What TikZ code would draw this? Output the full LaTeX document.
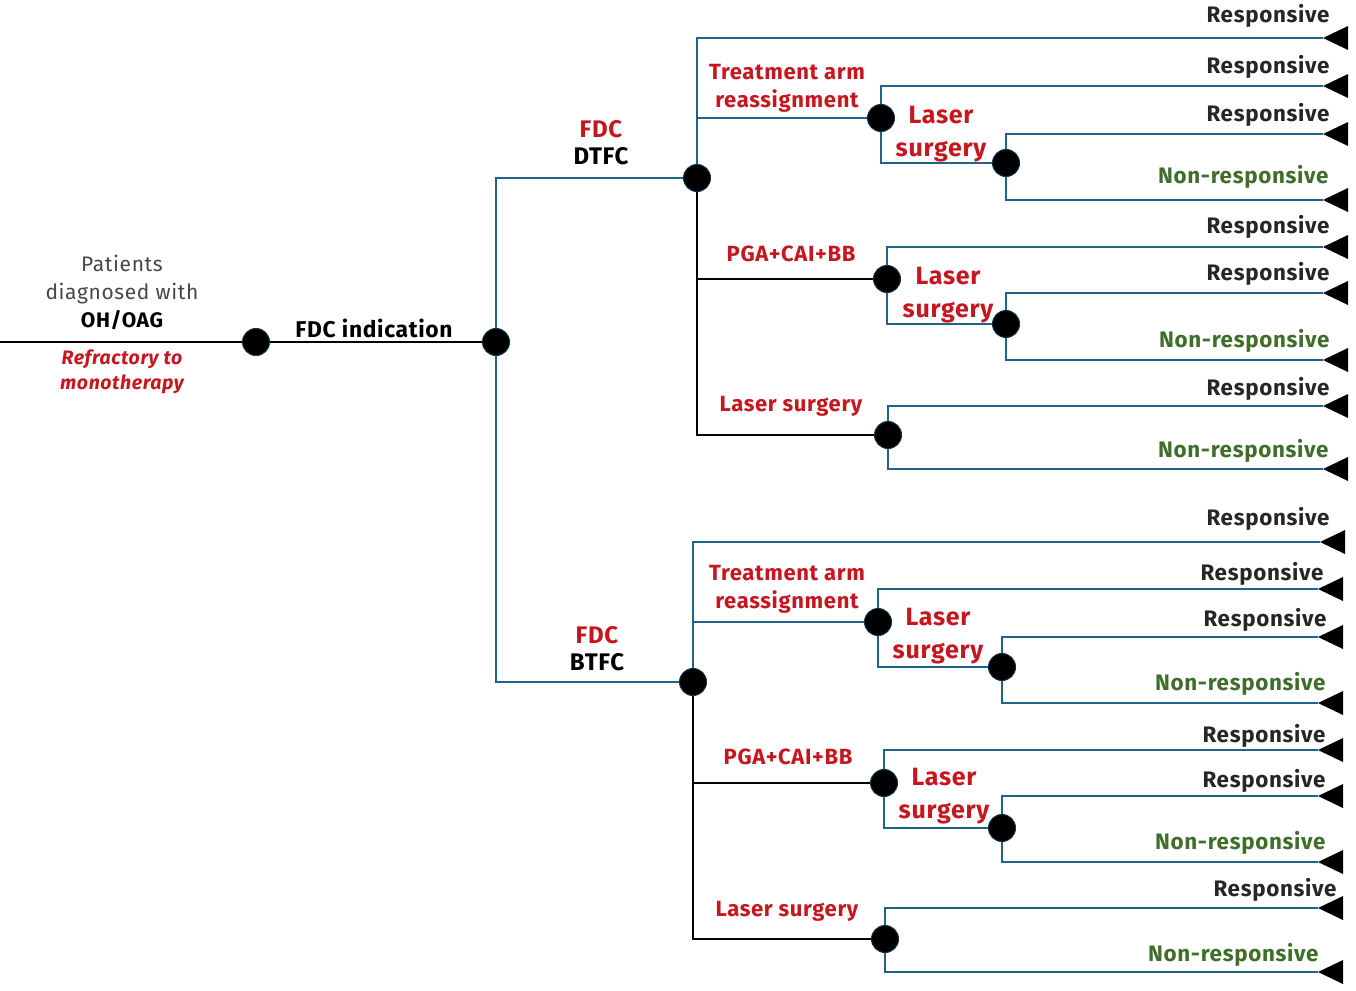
\documentclass[tikz,border=0pt]{standalone}
\usepackage{fontspec}
\setmainfont{Fira Sans}[LetterSpace=3]
\usepackage{tikz}
\definecolor{branchblue}{RGB}{31,98,140}
\definecolor{armred}{RGB}{200,22,30}
\definecolor{outgreen}{RGB}{62,110,42}
\definecolor{notegray}{RGB}{70,70,70}
\tikzset{chance/.style={circle,fill=black,draw=branchblue!50!black,line width=1pt,
   minimum size=27pt,inner sep=0pt},
 branch/.style={draw=branchblue,line width=2.8pt},
 stem/.style={draw=black,line width=2.8pt},
 outcome/.style={font=\fontsize{22.4}{26}\selectfont\bfseries,anchor=east},
 resp/.style={outcome,text=black!85},
 nonresp/.style={outcome,text=outgreen},
 arm/.style={font=\fontsize{22}{28}\selectfont\bfseries,text=armred,align=center},
 bigarm/.style={font=\fontsize{25}{33}\selectfont\bfseries,text=armred,align=center},
 plain/.style={font=\fontsize{22.8}{27}\selectfont\bfseries,align=center},
 }

\begin{document}
\begin{tikzpicture}[x=1pt,y=-1pt]
    \useasboundingbox (0,0) rectangle (1356,990);
    % chance nodes
    \coordinate (start) at (0,342);
    \node[chance] (diag) at (256,342) {};
    \node[chance] (fdc) at (496,342) {};
    \node[chance] (dtfc) at (697,178) {};
    \node[chance] (btfc) at (693,682) {};
    \node[chance] (reasA) at (881,118) {};
    \node[chance] (reasAlas) at (1006,163) {};
    \node[chance] (pgaA) at (887,279) {};
    \node[chance] (pgaAlas) at (1006,324) {};
    \node[chance] (lasA) at (888,435) {};
    \node[chance] (reasB) at (878,622) {};
    \node[chance] (reasBlas) at (1002,667) {};
    \node[chance] (pgaB) at (884,783) {};
    \node[chance] (pgaBlas) at (1002,828) {};
    \node[chance] (lasB) at (885,939) {};
    % terminal nodes
    \foreach \n/\x/\y in {e1/1323/38,e2/1323/86,e3/1323/134,e4/1323/200,
        e5/1323/247,e6/1323/293,e7/1323/360,e8/1323/406,e9/1323/469,
        e10/1320/542,e11/1318/589,e12/1318/637,e13/1318/703,
        e14/1318/750,e15/1318/796,e16/1318/862,e17/1318/908,e18/1318/972}
    {
        \coordinate (\n) at (\x,\y);
        \fill (\n) -- ++(25,-12) -- ++(0,24) -- cycle;
    }
    % connectors
    \draw[stem] (start) -- (diag);
    \draw[stem] (diag) -- (fdc);
    \draw[branch] (fdc) |- (dtfc);
    \draw[branch] (fdc) |- (btfc);
    \draw[branch] (dtfc) |- (e1);
    \draw[branch] (dtfc) |- (reasA);
    \draw[stem] (dtfc) |- (pgaA);
    \draw[stem] (dtfc) |- (lasA);
    \draw[branch] (reasA) |- (e2);
    \draw[branch] (reasA) |- (reasAlas);
    \draw[branch] (reasAlas) |- (e3);
    \draw[branch] (reasAlas) |- (e4);
    \draw[branch] (pgaA) |- (e5);
    \draw[branch] (pgaA) |- (pgaAlas);
    \draw[branch] (pgaAlas) |- (e6);
    \draw[branch] (pgaAlas) |- (e7);
    \draw[branch] (lasA) |- (e8);
    \draw[branch] (lasA) |- (e9);
    \draw[branch] (btfc) |- (e10);
    \draw[branch] (btfc) |- (reasB);
    \draw[stem] (btfc) |- (pgaB);
    \draw[stem] (btfc) |- (lasB);
    \draw[branch] (reasB) |- (e11);
    \draw[branch] (reasB) |- (reasBlas);
    \draw[branch] (reasBlas) |- (e12);
    \draw[branch] (reasBlas) |- (e13);
    \draw[branch] (pgaB) |- (e14);
    \draw[branch] (pgaB) |- (pgaBlas);
    \draw[branch] (pgaBlas) |- (e15);
    \draw[branch] (pgaBlas) |- (e16);
    \draw[branch] (lasB) |- (e17);
    \draw[branch] (lasB) |- (e18);
    % labels
    \node[font=\fontsize{21}{28}\selectfont,text=notegray,align=center] (pat) at (122,292)
        {Patients\\diagnosed with\\\textcolor{black}{\bfseries OH/OAG}};
    \node[font=\fontsize{19.5}{25}\selectfont\bfseries\itshape,text=armred,align=center] (refr) at (122,372)
        {Refractory to\\monotherapy};
    \node[plain] (fdcind) at (374,328) {FDC indication};
    \node[plain,font=\fontsize{24}{27}\selectfont\bfseries] (dtfclab) at (601,143) {\textcolor{armred}{FDC}\\DTFC};
    \node[plain,font=\fontsize{24}{27}\selectfont\bfseries] (btfclab) at (597,649) {\textcolor{armred}{FDC}\\BTFC};
    \node[arm] (reasAlab) at (787,88) {Treatment arm\\reassignment};
    \node[arm] (reasBlab) at (787,589) {Treatment arm\\reassignment};
    \node[arm] (pgaAlab) at (791,254) {PGA+CAI+BB};
    \node[arm] (pgaBlab) at (788,757) {PGA+CAI+BB};
    \node[arm] (lasAlab) at (791,406) {Laser surgery};
    \node[arm] (lasBlab) at (787,911) {Laser surgery};
    \node[bigarm] (reasAlaslab) at (941,134) {Laser\\surgery};
    \node[bigarm] (pgaAlaslab) at (948,295) {Laser\\surgery};
    \node[bigarm] (reasBlaslab) at (938,636) {Laser\\surgery};
    \node[bigarm] (pgaBlaslab) at (944,796) {Laser\\surgery};
    % outcome labels
    \node[resp] at (1333,16) {Responsive};
    \node[resp] at (1333,67) {Responsive};
    \node[resp] at (1333,115) {Responsive};
    \node[nonresp] at (1332,177) {Non-responsive};
    \node[resp] at (1333,227) {Responsive};
    \node[resp] at (1333,274) {Responsive};
    \node[nonresp] at (1333,341) {Non-responsive};
    \node[resp] at (1333,389) {Responsive};
    \node[nonresp] at (1332,451) {Non-responsive};
    \node[resp] at (1333,519) {Responsive};
    \node[resp] at (1327,574) {Responsive};
    \node[resp] at (1330,620) {Responsive};
    \node[nonresp] at (1329,684) {Non-responsive};
    \node[resp] at (1329,736) {Responsive};
    \node[resp] at (1329,781) {Responsive};
    \node[nonresp] at (1329,843) {Non-responsive};
    \node[resp] at (1340,890) {Responsive};
    \node[nonresp] at (1322,955) {Non-responsive};
\end{tikzpicture}
\end{document}
